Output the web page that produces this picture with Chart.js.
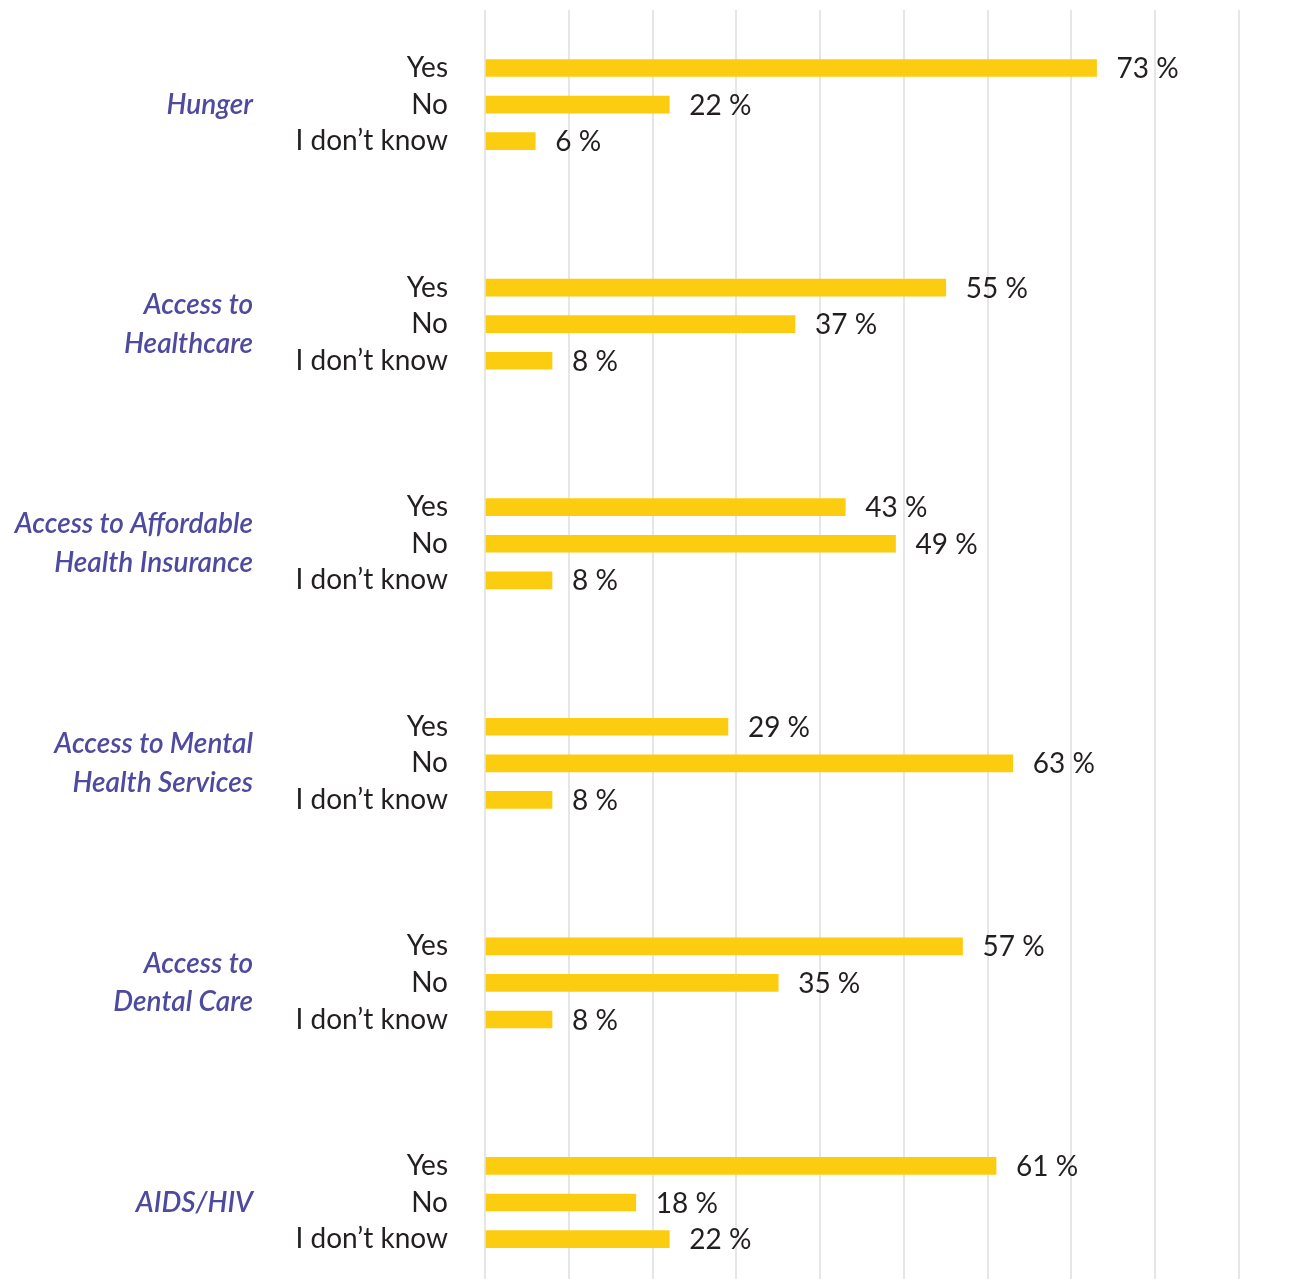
<!DOCTYPE html>
<html>
<head>
<meta charset="utf-8">
<script src="https://cdn.jsdelivr.net/npm/chart.js@4/dist/chart.umd.min.js"></script>
<style>
  html, body { margin: 0; padding: 0; background: #ffffff; }
  canvas { display: block; }
</style>
</head>
<body>
<canvas id="chart" width="1314" height="1279"></canvas>
<script>
// Survey topics (multi-line labels) and the three possible answers
const topics = [
  ['Hunger'],
  ['Access to', 'Healthcare'],
  ['Access to Affordable', 'Health Insurance'],
  ['Access to Mental', 'Health Services'],
  ['Access to', 'Dental Care'],
  ['AIDS/HIV']
];
const answers = ['Yes', 'No', 'I don’t know'];

// Share of respondents (%) per topic
const yesValues      = [73, 55, 43, 29, 57, 61];
const noValues       = [22, 37, 49, 63, 35, 18];
const dontKnowValues = [ 6,  8,  8,  8,  8, 22];

// Value-axis grid
const xTicks = [0, 10, 20, 30, 40, 50, 60, 70, 80, 90];

// Each topic block takes 3 answer rows followed by 3 empty rows
const ROWS_PER_TOPIC = 6;
const answerSeries = [yesValues, noValues, dontKnowValues];
const rows = [];
topics.forEach((t, g) => {
  answerSeries.forEach((arr, a) => {
    rows.push({ x: arr[g], y: g * ROWS_PER_TOPIC + a });
  });
});

const FONT = 'Lato, "Source Sans Pro", "Noto Sans", sans-serif';
const TEXT = '#231f20';
const PURPLE = '#4d4a9f';
const BAR = '#fccc10';

function rowInfo(v) {
  if (!Number.isInteger(v) || v < 0) return null;
  const g = Math.floor(v / ROWS_PER_TOPIC);
  const a = v % ROWS_PER_TOPIC;
  if (g >= topics.length) return null;
  return { g, a };
}

// Label axes should not reserve extra room above/below the plot
function noEdgePadding(scale) {
  scale.paddingTop = 0;
  scale.paddingBottom = 0;
}

// Prints "NN %" just past the end of each bar
const valueLabels = {
  id: 'valueLabels',
  afterDatasetsDraw(chart) {
    const ctx = chart.ctx;
    const meta = chart.getDatasetMeta(0);
    ctx.save();
    ctx.font = '28px ' + FONT;
    ctx.fillStyle = TEXT;
    ctx.textAlign = 'left';
    ctx.textBaseline = 'middle';
    meta.data.forEach((el, i) => {
      const v = chart.data.datasets[0].data[i].x;
      ctx.fillText(v + ' %', el.x + 20, el.y + 1);
    });
    ctx.restore();
  }
};

new Chart(document.getElementById('chart'), {
  type: 'bar',
  data: {
    datasets: [{
      data: rows,
      backgroundColor: BAR,
      borderWidth: 0,
      barThickness: 17
    }]
  },
  options: {
    indexAxis: 'y',
    responsive: false,
    animation: false,
    layout: { padding: { top: 10, right: 75, bottom: 0, left: 0 } },
    plugins: { legend: { display: false }, tooltip: { enabled: false } },
    scales: {
      x: {
        type: 'linear',
        position: 'bottom',
        min: xTicks[0],
        max: xTicks[xTicks.length - 1],
        afterBuildTicks(scale) { scale.ticks = xTicks.map(v => ({ value: v })); },
        afterFit(scale) { scale.height = 0; scale.paddingLeft = 0; scale.paddingRight = 0; },
        ticks: { display: false },
        border: { display: false },
        grid: { color: '#e6e6e6', lineWidth: 2, drawTicks: false }
      },
      y: {
        type: 'linear',
        position: 'left',
        reverse: true,
        offset: false,
        min: -1.585,
        max: 33.09,
        weight: 0,
        afterFit(scale) { scale.width = 222; noEdgePadding(scale); },
        border: { display: false },
        grid: { display: false, drawTicks: false },
        ticks: {
          stepSize: 1,
          autoSkip: false,
          maxTicksLimit: 200,
          padding: 37,
          color: TEXT,
          font: { family: FONT, size: 28 },
          callback(v) {
            const r = rowInfo(v);
            return r && r.a < answers.length ? answers[r.a] : '';
          }
        }
      },
      topic: {
        type: 'linear',
        position: 'left',
        reverse: true,
        offset: false,
        min: -1.585,
        max: 33.09,
        weight: 1,
        afterFit(scale) { scale.width = 263; noEdgePadding(scale); },
        border: { display: false },
        grid: { display: false, drawTicks: false },
        ticks: {
          stepSize: 1,
          autoSkip: false,
          maxTicksLimit: 200,
          padding: 10,
          color: PURPLE,
          font: { family: FONT, size: 28, style: 'italic', weight: '600', lineHeight: 1.38 },
          callback(v) {
            const r = rowInfo(v);
            return r && r.a === 1 ? topics[r.g] : '';
          }
        }
      }
    }
  },
  plugins: [valueLabels]
});
</script>
</body>
</html>
